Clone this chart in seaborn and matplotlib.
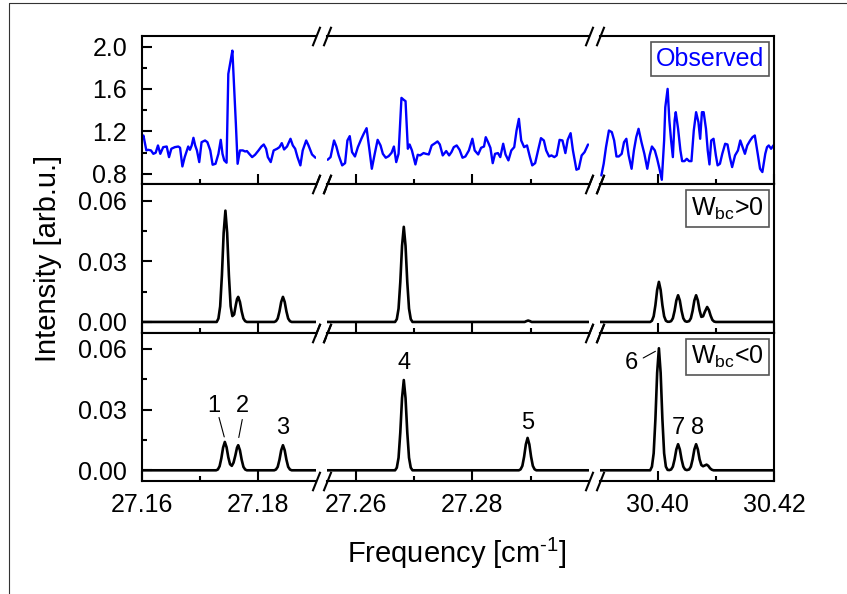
import matplotlib
matplotlib.use('Agg')
import matplotlib.pyplot as plt
import seaborn as sns
from matplotlib.lines import Line2D
from matplotlib.ticker import FixedLocator, FormatStrFormatter

# -----------------------------------------------------------------------------
# Data
# -----------------------------------------------------------------------------
# observed spectrum, one list per axis segment: (frequency, intensity)
obs_seg1 = [(27.1601, 1.145), (27.1603, 1.161), (27.1608, 1.020), (27.1611, 1.026), (27.1616, 1.020),
            (27.1620, 0.988), (27.1624, 0.998), (27.1628, 1.067), (27.1632, 0.988), (27.1637, 1.051),
            (27.1643, 1.057), (27.1647, 0.957), (27.1651, 1.036), (27.1657, 1.051), (27.1663, 1.057),
            (27.1666, 1.045), (27.1670, 0.869), (27.1674, 0.957), (27.1680, 1.057), (27.1683, 1.026),
            (27.1686, 1.067), (27.1689, 1.139), (27.1692, 1.067), (27.1695, 1.020), (27.1699, 0.910),
            (27.1703, 1.098), (27.1709, 1.114), (27.1713, 1.098), (27.1718, 1.020), (27.1722, 0.885),
            (27.1727, 0.894), (27.1732, 0.988), (27.1736, 1.120), (27.1739, 0.988), (27.1742, 0.926),
            (27.1746, 0.904), (27.1749, 1.742), (27.1753, 1.868), (27.1756, 1.962), (27.1759, 1.616),
            (27.1762, 1.271), (27.1765, 0.894), (27.1769, 1.020), (27.1774, 1.020), (27.1778, 1.010),
            (27.1781, 1.014), (27.1785, 0.988), (27.1790, 0.957), (27.1795, 0.979), (27.1801, 1.020),
            (27.1806, 1.057), (27.1810, 1.076), (27.1814, 1.036), (27.1817, 0.957), (27.1822, 0.910),
            (27.1827, 1.020), (27.1833, 1.036), (27.1837, 1.051), (27.1841, 1.089), (27.1845, 1.029),
            (27.1850, 1.057), (27.1856, 1.130), (27.1860, 1.067), (27.1864, 1.036), (27.1868, 0.957),
            (27.1873, 0.879), (27.1877, 1.020), (27.1883, 1.114), (27.1887, 1.067), (27.1893, 0.982),
            (27.1899, 0.951)]
obs_seg2 = [(27.2551, 0.932), (27.2556, 0.957), (27.2562, 1.114), (27.2566, 1.057), (27.2570, 0.973),
            (27.2576, 0.879), (27.2581, 0.900), (27.2585, 1.114), (27.2589, 1.155), (27.2593, 1.004),
            (27.2598, 0.963), (27.2603, 1.051), (27.2609, 1.130), (27.2613, 1.177), (27.2618, 1.230),
            (27.2623, 1.020), (27.2627, 0.847), (27.2632, 0.988), (27.2637, 1.120), (27.2642, 1.067),
            (27.2646, 0.988), (27.2651, 0.951), (27.2656, 0.966), (27.2661, 0.998), (27.2665, 1.057),
            (27.2669, 0.910), (27.2673, 0.988), (27.2678, 1.516), (27.2682, 1.497), (27.2685, 1.485),
            (27.2689, 1.036), (27.2692, 1.076), (27.2696, 1.020), (27.2702, 0.888), (27.2706, 0.979),
            (27.2710, 0.973), (27.2716, 0.995), (27.2720, 0.988), (27.2725, 0.982), (27.2730, 1.067),
            (27.2736, 1.089), (27.2740, 1.105), (27.2744, 1.076), (27.2749, 0.973), (27.2755, 1.014),
            (27.2760, 0.973), (27.2764, 1.004), (27.2768, 1.051), (27.2773, 1.067), (27.2778, 1.026),
            (27.2783, 0.951), (27.2788, 0.963), (27.2794, 1.020), (27.2800, 1.130), (27.2804, 1.020),
            (27.2810, 0.982), (27.2815, 1.045), (27.2820, 1.057), (27.2823, 1.145), (27.2827, 1.098),
            (27.2831, 1.045), (27.2835, 0.900), (27.2839, 0.988), (27.2844, 0.995), (27.2848, 0.957),
            (27.2853, 1.083), (27.2857, 0.982), (27.2862, 0.926), (27.2867, 1.020), (27.2872, 1.051),
            (27.2876, 1.208), (27.2880, 1.318), (27.2884, 1.114), (27.2889, 1.051), (27.2894, 1.067),
            (27.2899, 0.957), (27.2903, 0.879), (27.2908, 0.900), (27.2913, 1.020), (27.2918, 1.136),
            (27.2923, 1.114), (27.2927, 1.020), (27.2932, 0.963), (27.2936, 0.973), (27.2941, 0.957),
            (27.2945, 0.973), (27.2950, 1.120), (27.2955, 1.114), (27.2960, 0.995), (27.2964, 1.120),
            (27.2969, 1.183), (27.2973, 1.020), (27.2979, 0.838), (27.2983, 0.847), (27.2988, 0.973),
            (27.2993, 1.004), (27.2999, 1.076)]
obs_seg3 = [(30.3903, 0.784), (30.3907, 0.894), (30.3911, 1.051), (30.3916, 1.208), (30.3921, 1.193),
            (30.3925, 1.114), (30.3929, 0.963), (30.3933, 0.963), (30.3938, 0.988), (30.3942, 1.098),
            (30.3946, 1.130), (30.3950, 0.973), (30.3955, 0.847), (30.3959, 1.020), (30.3963, 1.145),
            (30.3967, 1.224), (30.3972, 1.098), (30.3977, 0.988), (30.3982, 0.847), (30.3986, 0.973),
            (30.3990, 1.057), (30.3995, 1.020), (30.3999, 0.941), (30.4003, 0.847), (30.4007, 0.743),
            (30.4011, 1.114), (30.4013, 1.428), (30.4017, 1.601), (30.4020, 1.302), (30.4023, 1.114),
            (30.4026, 0.957), (30.4029, 1.302), (30.4031, 1.381), (30.4035, 1.224), (30.4039, 1.020),
            (30.4042, 0.919), (30.4046, 0.919), (30.4050, 0.941), (30.4054, 0.919), (30.4058, 0.919),
            (30.4062, 1.208), (30.4066, 1.381), (30.4070, 1.287), (30.4073, 1.130), (30.4076, 1.381),
            (30.4079, 1.381), (30.4083, 1.224), (30.4086, 1.020), (30.4089, 0.888), (30.4092, 1.114),
            (30.4096, 1.130), (30.4100, 0.973), (30.4103, 0.879), (30.4107, 0.894), (30.4111, 0.988),
            (30.4116, 1.083), (30.4120, 1.076), (30.4124, 0.957), (30.4128, 0.863), (30.4133, 0.973),
            (30.4138, 1.020), (30.4142, 1.114), (30.4146, 1.051), (30.4150, 0.988), (30.4154, 1.067),
            (30.4159, 1.114), (30.4163, 1.145), (30.4167, 1.161), (30.4172, 0.988), (30.4176, 0.847),
            (30.4180, 0.816), (30.4185, 0.988), (30.4188, 1.051), (30.4191, 1.067), (30.4195, 1.036),
            (30.4199, 1.067), (30.4202, 1.076)]

# simulated spectrum, W_bc > 0
pos_seg1 = [(27.160, 0), (27.1729, 0), (27.1732, 0.0017), (27.1735, 0.0077), (27.1738, 0.0231),
            (27.1741, 0.0440), (27.1744, 0.0550), (27.1747, 0.0440), (27.1750, 0.0231), (27.1753, 0.0078),
            (27.1756, 0.0029), (27.1759, 0.0037), (27.1762, 0.0085), (27.1764, 0.0113), (27.1766, 0.0124),
            (27.1769, 0.0099), (27.1772, 0.0052), (27.1775, 0.0017), (27.1778, 0.0004), (27.1781, 0),
            (27.1828, 0), (27.1831, 0.0004), (27.1834, 0.0017), (27.1837, 0.0052), (27.1840, 0.0099),
            (27.1843, 0.0124), (27.1846, 0.0099), (27.1849, 0.0052), (27.1852, 0.0017), (27.1855, 0.0004),
            (27.1858, 0), (27.190, 0)]
pos_seg2 = [(27.255, 0), (27.2667, 0), (27.2670, 0.0014), (27.2673, 0.0066), (27.2676, 0.0197),
            (27.2679, 0.0376), (27.2682, 0.0470), (27.2685, 0.0376), (27.2688, 0.0197), (27.2691, 0.0066),
            (27.2694, 0.0014), (27.2697, 0), (27.2890, 0), (27.2893, 0.0004), (27.2896, 0.0007),
            (27.2899, 0.0004), (27.2902, 0), (27.300, 0)]
pos_seg3 = [(30.390, 0), (30.3987, 0), (30.3990, 0.0006), (30.3993, 0.0028), (30.3996, 0.0083),
            (30.3999, 0.0158), (30.4002, 0.0198), (30.4005, 0.0158), (30.4008, 0.0083), (30.4011, 0.0028),
            (30.4014, 0.0006), (30.4017, 0.0001), (30.4020, 0.0001), (30.4023, 0.0004), (30.4026, 0.0018),
            (30.4029, 0.0055), (30.4032, 0.0106), (30.4035, 0.0132), (30.4038, 0.0106), (30.4041, 0.0055),
            (30.4044, 0.0018), (30.4047, 0.0004), (30.4050, 0.0001), (30.4054, 0.0004), (30.4057, 0.0018),
            (30.4060, 0.0055), (30.4063, 0.0106), (30.4066, 0.0132), (30.4069, 0.0106), (30.4072, 0.0057),
            (30.4075, 0.0025), (30.4078, 0.0028), (30.4081, 0.0050), (30.4085, 0.0074), (30.4088, 0.0059),
            (30.4091, 0.0031), (30.4094, 0.0010), (30.4097, 0.0002), (30.4100, 0), (30.420, 0)]

# simulated spectrum, W_bc < 0
neg_seg1 = [(27.160, 0), (27.1728, 0), (27.1731, 0.0004), (27.1734, 0.0020), (27.1737, 0.0059),
            (27.1740, 0.0112), (27.1743, 0.0140), (27.1746, 0.0114), (27.1749, 0.0064), (27.1752, 0.0030),
            (27.1755, 0.0022), (27.1758, 0.0038), (27.1761, 0.0072), (27.1764, 0.0112), (27.1766, 0.0124),
            (27.1769, 0.0099), (27.1772, 0.0052), (27.1775, 0.0017), (27.1778, 0.0004), (27.1781, 0),
            (27.1828, 0), (27.1831, 0.0004), (27.1834, 0.0017), (27.1837, 0.0052), (27.1840, 0.0099),
            (27.1843, 0.0124), (27.1846, 0.0099), (27.1849, 0.0052), (27.1852, 0.0017), (27.1855, 0.0004),
            (27.1858, 0), (27.190, 0)]
neg_seg2 = [(27.255, 0), (27.2667, 0), (27.2670, 0.0013), (27.2673, 0.0062), (27.2676, 0.0187),
            (27.2679, 0.0357), (27.2682, 0.0446), (27.2685, 0.0357), (27.2688, 0.0187), (27.2691, 0.0062),
            (27.2694, 0.0013), (27.2697, 0), (27.2880, 0), (27.2883, 0.0005), (27.2886, 0.0022),
            (27.2889, 0.0067), (27.2892, 0.0128), (27.2895, 0.0160), (27.2898, 0.0128), (27.2901, 0.0067),
            (27.2904, 0.0022), (27.2907, 0.0005), (27.2910, 0), (27.300, 0)]
neg_seg3 = [(30.390, 0), (30.3987, 0), (30.3990, 0.0018), (30.3993, 0.0084), (30.3996, 0.0253),
            (30.3999, 0.0482), (30.4002, 0.0603), (30.4005, 0.0482), (30.4008, 0.0253), (30.4011, 0.0084),
            (30.4014, 0.0018), (30.4017, 0.0002), (30.4020, 0.0001), (30.4023, 0.0004), (30.4026, 0.0018),
            (30.4029, 0.0054), (30.4032, 0.0103), (30.4035, 0.0129), (30.4038, 0.0103), (30.4041, 0.0054),
            (30.4044, 0.0018), (30.4047, 0.0004), (30.4050, 0.0001), (30.4054, 0.0004), (30.4057, 0.0018),
            (30.4060, 0.0054), (30.4063, 0.0103), (30.4066, 0.0129), (30.4069, 0.0103), (30.4072, 0.0054),
            (30.4075, 0.0026), (30.4078, 0.0020), (30.4081, 0.0024), (30.4084, 0.0028), (30.4087, 0.0022),
            (30.4090, 0.0010), (30.4093, 0.0003), (30.4096, 0), (30.420, 0)]

# peak numbers in the W_bc<0 panel: (column, label, text x, text y, leader line or None)
peak_labels = [
    (0, '1', 27.1724, 0.0320, ((27.1733, 0.0261), (27.1742, 0.0165))),
    (0, '2', 27.1773, 0.0320, ((27.1773, 0.0251), (27.1767, 0.0162))),
    (0, '3', 27.1843, 0.0207, None),
    (1, '4', 27.2682, 0.0529, None),
    (1, '5', 27.2895, 0.0235, None),
    (2, '6', 30.3954, 0.0530, ((30.3975, 0.0555), (30.3996, 0.0588))),
    (2, '7', 30.4035, 0.0208, None),
    (2, '8', 30.4069, 0.0208, None),
]

panel_names = ['Observed', r'$\mathregular{W_{bc}}$>0', r'$\mathregular{W_{bc}}$<0']
panel_colors = ['blue', 'black', 'black']

x_limits = [(27.16, 27.19), (27.255, 27.30), (30.39, 30.42)]
x_major = [[27.16, 27.18], [27.26, 27.28], [30.40, 30.42]]
x_minor = [[27.17], [27.27, 27.29], [30.41]]
y_limits = [(0.7, 2.1), (-0.0053, 0.068), (-0.0053, 0.068)]
y_major = [[0.8, 1.2, 1.6, 2.0], [0.0, 0.03, 0.06], [0.0, 0.03, 0.06]]
y_minor = [[1.0, 1.4, 1.8], [0.015, 0.045], [0.015, 0.045]]
y_fmt = ['%.1f', '%.2f', '%.2f']

rows = [[obs_seg1, obs_seg2, obs_seg3],
        [pos_seg1, pos_seg2, pos_seg3],
        [neg_seg1, neg_seg2, neg_seg3]]

# -----------------------------------------------------------------------------
# Style
# -----------------------------------------------------------------------------
sns.set_style('ticks')
plt.rcParams['font.family'] = ['Liberation Sans', 'DejaVu Sans']
plt.rcParams['mathtext.fontset'] = 'custom'
plt.rcParams['mathtext.rm'] = 'Liberation Sans'
plt.rcParams['axes.linewidth'] = 1.5
for key in ['text.color', 'axes.labelcolor', 'xtick.color', 'ytick.color', 'axes.edgecolor']:
    plt.rcParams[key] = 'black'

fig = plt.figure(figsize=(8.47, 5.94), dpi=100)
gs = fig.add_gridspec(3, 3, left=0.1673, right=0.9138, top=0.9394, bottom=0.1902,
                      hspace=0, wspace=0.054, width_ratios=[0.03, 0.045, 0.03])
axes = [[fig.add_subplot(gs[r, c]) for c in range(3)] for r in range(3)]

# -----------------------------------------------------------------------------
# Curves + axes
# -----------------------------------------------------------------------------
for r in range(3):
    for c in range(3):
        ax = axes[r][c]
        xs = [p[0] for p in rows[r][c]]
        ys = [p[1] for p in rows[r][c]]
        sns.lineplot(x=xs, y=ys, ax=ax, color=panel_colors[r],
                     lw=1.7 if r == 0 else 1.9, estimator=None, sort=False)
        ax.set_xlim(*x_limits[c])
        ax.set_ylim(*y_limits[r])
        ax.set_xlabel('')
        ax.set_ylabel('')

        ax.spines['left'].set_visible(c == 0)
        ax.spines['right'].set_visible(c == 2)
        for s in ax.spines.values():
            s.set_linewidth(1.5)
            s.set_color('black')

        ax.xaxis.set_major_locator(FixedLocator(x_major[c]))
        ax.xaxis.set_minor_locator(FixedLocator(x_minor[c]))
        ax.xaxis.set_major_formatter(FormatStrFormatter('%.2f'))
        ax.yaxis.set_major_locator(FixedLocator(y_major[r]))
        ax.yaxis.set_minor_locator(FixedLocator(y_minor[r]))
        ax.yaxis.set_major_formatter(FormatStrFormatter(y_fmt[r]))

        ax.tick_params(which='both', direction='in', top=False, right=False,
                       left=(c == 0), labelleft=(c == 0), labelbottom=(r == 2),
                       width=1.5, labelsize=18, colors='black')
        ax.tick_params(which='major', length=7)
        ax.tick_params(which='minor', length=3.5)
        ax.tick_params(axis='x', pad=8.5)
        ax.tick_params(axis='y', pad=10.5)

        # break marks //
        ends = [1] if c == 0 else ([0, 1] if c == 1 else [0])
        for xe in ends:
            ax.plot([xe, xe], [0, 1], transform=ax.transAxes, ls='none',
                    marker=[(-0.4, -1), (0.4, 1)], ms=14, mew=1.5, color='k',
                    clip_on=False, zorder=5)

    # panel name box
    axes[r][2].text(0.943, 0.925, panel_names[r], transform=axes[r][2].transAxes,
                    ha='right', va='top', fontsize=18, color=panel_colors[r],
                    bbox=dict(boxstyle='square,pad=0.2', fc='white', ec='#555555', lw=1.2))

# peak numbers
for col, lab, tx, ty, leader in peak_labels:
    ax = axes[2][col]
    ax.text(tx, ty, lab, ha='center', va='center', fontsize=17)
    if leader is not None:
        ax.plot([leader[0][0], leader[1][0]], [leader[0][1], leader[1][1]], color='k', lw=0.8)

fig.text(0.057, 0.5648, 'Intensity [arb.u.]', rotation=90, ha='center', va='center', fontsize=21)
fig.text(0.540, 0.0522, r'Frequency [cm$\mathregular{^{\text{-}1}}$]', ha='center', va='baseline', fontsize=21)

# thin frame of the original page crop
fig.add_artist(Line2D([9 / 847, 1], [1 - 3 / 594, 1 - 3 / 594], color='#333333', lw=0.8))
fig.add_artist(Line2D([9 / 847, 9 / 847], [0, 1 - 3 / 594], color='#333333', lw=0.8))

fig.savefig('out.png', dpi=100)
plt.close(fig)
